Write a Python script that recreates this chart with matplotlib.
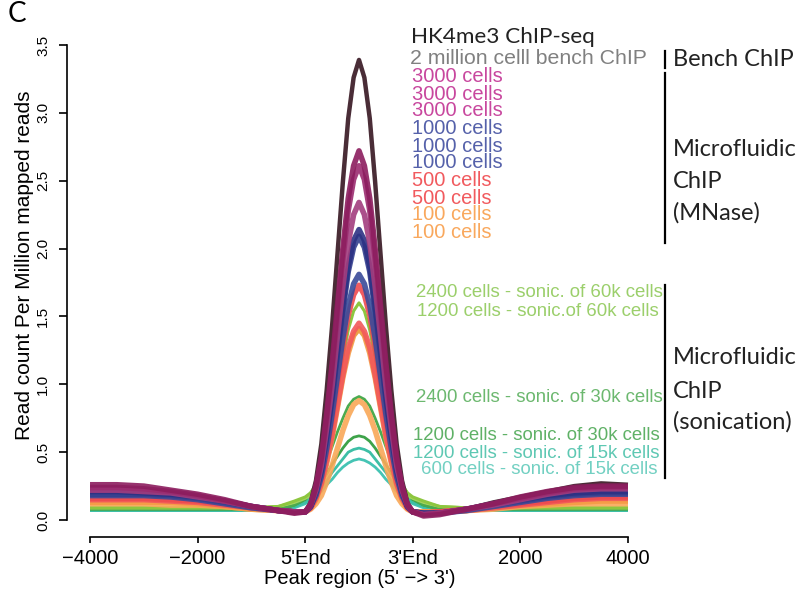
"""Recreate panel C: HK4me3 ChIP-seq peak profiles (bench vs microfluidic ChIP)."""

import matplotlib
matplotlib.use("Agg")
import matplotlib.pyplot as plt
from matplotlib.lines import Line2D

W, H = 803, 606

# x positions: 0=-4000, 1=-2000, 2=5'End, 3=3'End, 4=2000, 5=4000
pos = [0, 0.25, 0.5, 0.75, 1.0, 1.25, 1.5, 1.75, 1.9,
       2.0, 2.05, 2.1, 2.15, 2.2, 2.25, 2.3, 2.35, 2.4, 2.45, 2.5,
       2.55, 2.6, 2.65, 2.7, 2.75, 2.8, 2.85, 2.9, 2.95, 3.0,
       3.1, 3.25, 3.5, 3.75, 4.0, 4.25, 4.5, 4.75, 5.0]
xtick_pos = [0, 1, 2, 3, 4, 5]
xtick_labels = ["\u22124000", "\u22122000", "5'End", "3'End", "2000", "4000"]
ytick_pos = [0.0, 0.5, 1.0, 1.5, 2.0, 2.5, 3.0, 3.5]

bench = [0.23, 0.23, 0.22, 0.20, 0.17, 0.14, 0.10, 0.07, 0.06,
         0.06, 0.13, 0.29, 0.56, 0.96, 1.43, 1.96, 2.49, 2.96, 3.26, 3.39,
         3.26, 2.96, 2.49, 1.96, 1.43, 0.96, 0.56, 0.29, 0.13, 0.06,
         0.04, 0.05, 0.08, 0.13, 0.17, 0.21, 0.25, 0.27, 0.26]
c3000_a = [0.26, 0.26, 0.25, 0.22, 0.19, 0.15, 0.10, 0.07, 0.05,
           0.06, 0.11, 0.25, 0.46, 0.78, 1.15, 1.58, 2.00, 2.37, 2.61, 2.72,
           2.61, 2.37, 2.00, 1.58, 1.15, 0.78, 0.46, 0.25, 0.11, 0.06,
           0.03, 0.04, 0.08, 0.12, 0.17, 0.21, 0.24, 0.25, 0.25]
c3000_b = [0.24, 0.24, 0.23, 0.21, 0.18, 0.14, 0.10, 0.07, 0.06,
           0.06, 0.11, 0.24, 0.44, 0.75, 1.11, 1.51, 1.92, 2.28, 2.51, 2.61,
           2.51, 2.28, 1.92, 1.51, 1.11, 0.75, 0.44, 0.24, 0.11, 0.06,
           0.04, 0.05, 0.08, 0.12, 0.16, 0.20, 0.23, 0.24, 0.24]
c3000_c = [0.22, 0.22, 0.21, 0.20, 0.17, 0.14, 0.10, 0.07, 0.06,
           0.06, 0.11, 0.22, 0.40, 0.68, 0.99, 1.36, 1.72, 2.04, 2.25, 2.34,
           2.25, 2.04, 1.72, 1.36, 0.99, 0.68, 0.40, 0.22, 0.11, 0.06,
           0.04, 0.05, 0.08, 0.11, 0.15, 0.19, 0.22, 0.23, 0.23]
c1000_a = [0.21, 0.21, 0.20, 0.19, 0.17, 0.14, 0.10, 0.07, 0.06,
           0.06, 0.10, 0.21, 0.37, 0.62, 0.91, 1.25, 1.58, 1.87, 2.06, 2.14,
           2.06, 1.87, 1.58, 1.25, 0.91, 0.62, 0.37, 0.21, 0.10, 0.06,
           0.05, 0.05, 0.08, 0.12, 0.15, 0.18, 0.20, 0.21, 0.21]
c1000_b = [0.19, 0.19, 0.19, 0.18, 0.16, 0.13, 0.10, 0.07, 0.06,
           0.06, 0.10, 0.20, 0.36, 0.61, 0.89, 1.22, 1.54, 1.83, 2.01, 2.09,
           2.01, 1.83, 1.54, 1.22, 0.89, 0.61, 0.36, 0.20, 0.10, 0.06,
           0.05, 0.05, 0.08, 0.11, 0.14, 0.17, 0.19, 0.20, 0.20]
c1000_c = [0.18, 0.18, 0.18, 0.17, 0.15, 0.12, 0.09, 0.07, 0.06,
           0.06, 0.10, 0.18, 0.32, 0.53, 0.78, 1.06, 1.34, 1.58, 1.74, 1.81,
           1.74, 1.58, 1.34, 1.06, 0.78, 0.53, 0.32, 0.18, 0.10, 0.06,
           0.05, 0.05, 0.07, 0.10, 0.13, 0.16, 0.18, 0.19, 0.19]
c500_a = [0.16, 0.16, 0.16, 0.15, 0.14, 0.12, 0.09, 0.07, 0.06,
          0.06, 0.09, 0.18, 0.31, 0.51, 0.74, 1.01, 1.28, 1.51, 1.66, 1.73,
          1.66, 1.51, 1.28, 1.01, 0.74, 0.51, 0.31, 0.18, 0.09, 0.06,
          0.05, 0.06, 0.08, 0.10, 0.12, 0.14, 0.16, 0.17, 0.17]
c500_b = [0.15, 0.15, 0.15, 0.14, 0.13, 0.11, 0.09, 0.07, 0.06,
          0.06, 0.09, 0.16, 0.27, 0.44, 0.63, 0.85, 1.07, 1.27, 1.39, 1.45,
          1.39, 1.27, 1.07, 0.85, 0.63, 0.44, 0.27, 0.16, 0.09, 0.06,
          0.05, 0.06, 0.07, 0.09, 0.11, 0.13, 0.15, 0.16, 0.16]
c100_a = [0.13, 0.13, 0.13, 0.13, 0.12, 0.10, 0.08, 0.07, 0.06,
          0.06, 0.09, 0.15, 0.26, 0.42, 0.61, 0.83, 1.05, 1.23, 1.36, 1.41,
          1.36, 1.23, 1.05, 0.83, 0.61, 0.42, 0.26, 0.15, 0.09, 0.06,
          0.06, 0.06, 0.07, 0.09, 0.11, 0.12, 0.13, 0.14, 0.14]
c100_b = [0.12, 0.12, 0.12, 0.11, 0.11, 0.10, 0.08, 0.07, 0.06,
          0.06, 0.08, 0.12, 0.18, 0.28, 0.40, 0.53, 0.66, 0.77, 0.85, 0.88,
          0.85, 0.77, 0.66, 0.53, 0.40, 0.28, 0.18, 0.12, 0.08, 0.06,
          0.06, 0.06, 0.07, 0.08, 0.10, 0.11, 0.12, 0.12, 0.12]
son60_2400 = [0.09, 0.09, 0.09, 0.09, 0.09, 0.09, 0.09, 0.10, 0.14,
              0.17, 0.20, 0.26, 0.38, 0.54, 0.74, 0.97, 1.19, 1.40, 1.54, 1.60,
              1.54, 1.40, 1.19, 0.97, 0.74, 0.54, 0.38, 0.26, 0.20, 0.17,
              0.14, 0.10, 0.09, 0.09, 0.09, 0.09, 0.09, 0.09, 0.09]
son60_1200 = [0.09, 0.09, 0.09, 0.09, 0.09, 0.09, 0.09, 0.10, 0.13,
              0.16, 0.18, 0.23, 0.34, 0.48, 0.65, 0.85, 1.05, 1.23, 1.35, 1.40,
              1.35, 1.23, 1.05, 0.85, 0.65, 0.48, 0.34, 0.23, 0.18, 0.16,
              0.13, 0.10, 0.09, 0.09, 0.09, 0.09, 0.09, 0.09, 0.09]
son30_2400 = [0.08, 0.08, 0.08, 0.08, 0.08, 0.08, 0.08, 0.08, 0.11,
              0.16, 0.20, 0.26, 0.34, 0.43, 0.54, 0.65, 0.75, 0.84, 0.89, 0.91,
              0.89, 0.84, 0.75, 0.65, 0.54, 0.43, 0.34, 0.26, 0.20, 0.16,
              0.11, 0.08, 0.08, 0.08, 0.08, 0.08, 0.08, 0.08, 0.08]
son30_1200 = [0.08, 0.08, 0.08, 0.08, 0.08, 0.08, 0.08, 0.08, 0.11,
              0.15, 0.19, 0.23, 0.28, 0.34, 0.41, 0.47, 0.53, 0.58, 0.61, 0.62,
              0.61, 0.58, 0.53, 0.47, 0.41, 0.34, 0.28, 0.23, 0.19, 0.15,
              0.11, 0.08, 0.08, 0.08, 0.08, 0.08, 0.08, 0.08, 0.08]
son15_1200 = [0.07, 0.07, 0.07, 0.07, 0.07, 0.07, 0.07, 0.07, 0.10,
              0.13, 0.16, 0.20, 0.24, 0.29, 0.35, 0.40, 0.45, 0.50, 0.52, 0.53,
              0.52, 0.50, 0.45, 0.40, 0.35, 0.29, 0.24, 0.20, 0.16, 0.13,
              0.10, 0.07, 0.07, 0.07, 0.07, 0.07, 0.07, 0.07, 0.07]
son15_600 = [0.07, 0.07, 0.07, 0.07, 0.07, 0.07, 0.07, 0.07, 0.09,
             0.12, 0.15, 0.18, 0.21, 0.26, 0.30, 0.35, 0.39, 0.42, 0.44, 0.45,
             0.44, 0.42, 0.39, 0.35, 0.30, 0.26, 0.21, 0.18, 0.15, 0.12,
             0.09, 0.07, 0.07, 0.07, 0.07, 0.07, 0.07, 0.07, 0.07]

# drawing order: bottom first
series = [
    (son15_600, "#45c4b4", 2.0, 1.0),
    (son15_1200, "#3dbfa6", 2.0, 1.0),
    (son30_1200, "#3ea34a", 2.0, 1.0),
    (son30_2400, "#4bab4f", 2.0, 1.0),
    (son60_1200, "#a3d35c", 2.2, 1.0),
    (son60_2400, "#8dc63f", 2.2, 1.0),
    (c100_b, "#f9a858", 4.0, 0.9),
    (c100_a, "#f59b45", 4.0, 0.9),
    (c500_b, "#f2585a", 4.0, 0.9),
    (c500_a, "#ee4a4f", 4.0, 0.9),
    (bench, "#4a2d37", 3.2, 1.0),
    (c1000_c, "#3a4a99", 4.0, 0.9),
    (c1000_b, "#34408f", 4.0, 0.9),
    (c1000_a, "#2c3183", 4.0, 0.9),
    (c3000_c, "#a23d7e", 4.0, 0.9),
    (c3000_b, "#9b2c70", 4.0, 0.9),
    (c3000_a, "#8c1d5e", 4.0, 0.9),
]

# right-hand labels: text, colour, left x px, centre y px, size
mnase_labels = [
    ("2 million celll bench ChIP", "#808080", 410, 59, 15.3),
    ("3000 cells", "#c8479e", 412, 77, 14.5),
    ("3000 cells", "#c8479e", 412, 94, 14.5),
    ("3000 cells", "#c8479e", 412, 111, 14.5),
    ("1000 cells", "#5561aa", 412, 129, 14.5),
    ("1000 cells", "#5561aa", 412, 146, 14.5),
    ("1000 cells", "#5561aa", 412, 163, 14.5),
    ("500 cells", "#f15a5e", 412, 181, 14.5),
    ("500 cells", "#f15a5e", 412, 198, 14.5),
    ("100 cells", "#f9a85d", 412, 215, 14.5),
    ("100 cells", "#f9a85d", 412, 232, 14.5),
]
sonic_labels = [
    ("2400 cells - sonic. of 60k cells", "#9bcf6b", 416, 292),
    ("1200 cells - sonic.of 60k cells", "#9bcf6b", 417, 311),
    ("2400 cells - sonic. of 30k cells", "#6cb86f", 416, 398),
    ("1200 cells - sonic. of 30k cells", "#5fb166", 413, 436),
    ("1200 cells - sonic. of 15k cells", "#5ec8b3", 413, 453),
    ("600 cells - sonic. of 15k cells", "#72d0c2", 421, 470),
]

fig = plt.figure(figsize=(W / 100, H / 100), dpi=100)
ax = fig.add_axes([67 / W, (H - 537) / H, 584 / W, 508.3 / H])

for vals, color, lw, alpha in series:
    ax.plot(pos, vals, color=color, lw=lw, alpha=alpha, solid_capstyle="butt")

ax.set_xlim(-0.214, 5.214)
ax.set_ylim(-0.125, 3.62)
for side in ("top", "right"):
    ax.spines[side].set_visible(False)
ax.spines["left"].set_bounds(0, 3.5)
ax.spines["bottom"].set_bounds(0, 5)
for side in ("left", "bottom"):
    ax.spines[side].set_linewidth(1.2)

ax.set_xticks(xtick_pos)
ax.set_xticklabels(xtick_labels, fontsize=14.5, family="Liberation Sans")
ax.set_yticks(ytick_pos)
ax.set_yticklabels([f"{v:.1f}" for v in ytick_pos], fontsize=11,
                   family="Liberation Sans", rotation=90, va="center")
ax.tick_params(axis="x", length=4.5, width=1.2, pad=4)
ax.tick_params(axis="y", length=6, width=1.2, pad=6)

fig.text(360 / W, 1 - 578 / H, "Peak region (5' \u2212> 3')", ha="center", va="center",
         fontsize=14.5, family="Liberation Sans")
fig.text(25 / W, 1 - 265 / H, "Read count Per Million mapped reads", ha="center",
         va="center", rotation=90, fontsize=15, family="Liberation Sans")

fig.text(8 / W, 1 - 14 / H, "C", ha="left", va="center", fontsize=20, family="Lato")
fig.text(411 / W, 1 - 37 / H, "HK4me3 ChIP-seq", ha="left", va="center",
         fontsize=16.2, family="Lato", color="#222222")

for text, color, x, y, size in mnase_labels:
    fig.text(x / W, 1 - y / H, text, ha="left", va="center", fontsize=size,
             family="Liberation Sans", color=color)
for text, color, x, y in sonic_labels:
    fig.text(x / W, 1 - y / H, text, ha="left", va="center", fontsize=13.4,
             family="Liberation Sans", color=color)

# group brackets
for y1, y2 in [(51, 68), (73, 243), (285, 478)]:
    fig.add_artist(Line2D([665 / W, 665 / W], [1 - y1 / H, 1 - y2 / H],
                          color="black", lw=1.6, transform=fig.transFigure))

group_text = [
    ("Bench ChIP", 59),
    ("Microfluidic", 150),
    ("ChIP", 182),
    ("(MNase)", 213),
    ("Microfluidic", 358),
    ("ChIP", 391),
    ("(sonication)", 422),
]
for text, y in group_text:
    fig.text(673 / W, 1 - y / H, text, ha="left", va="center", fontsize=17,
             family="Lato", color="#222222")

fig.savefig("out.png", dpi=100)
